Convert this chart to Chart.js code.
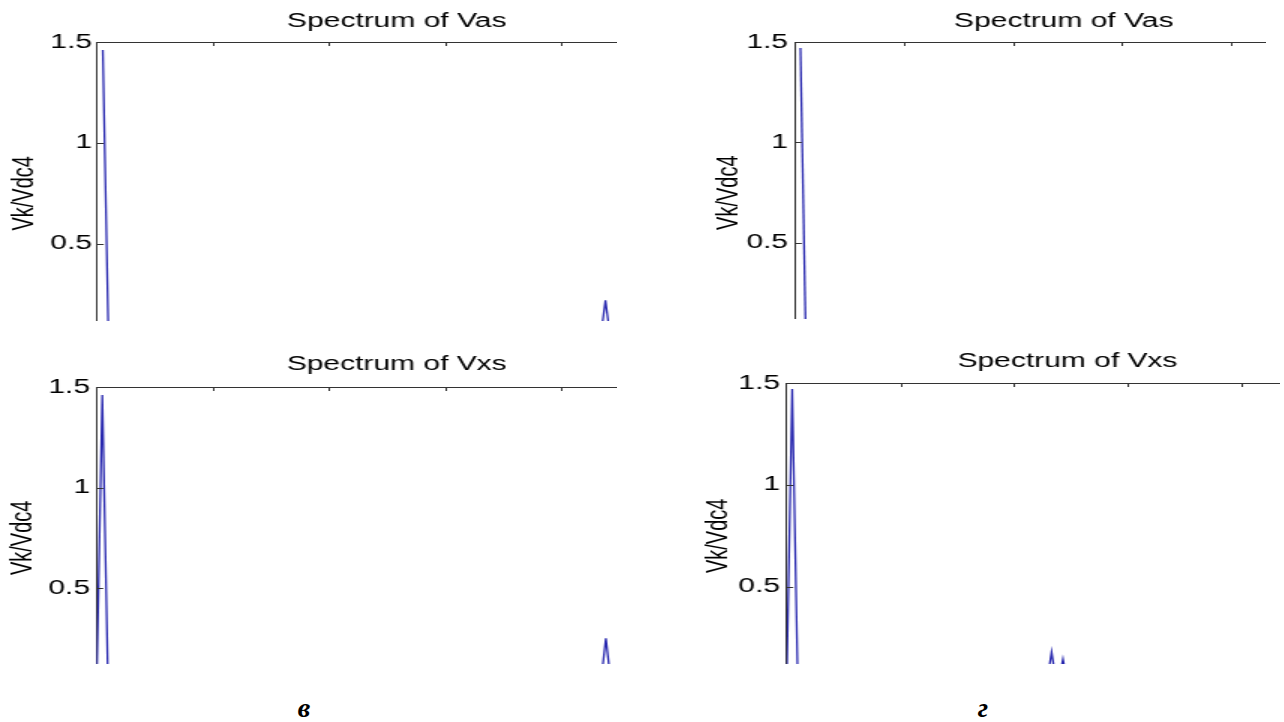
<!DOCTYPE html>
<html><head><meta charset="utf-8">
<script src="https://cdn.jsdelivr.net/npm/chart.js@4.4.0/dist/chart.umd.min.js"></script>
<style>
html,body{margin:0;padding:0;background:#fff;width:1284px;height:722px;overflow:hidden;}
.panel{position:absolute;overflow:hidden;}
.panel canvas{position:absolute;left:0;top:0;transform:scaleX(1.5);transform-origin:0 0;}
.lbl{position:absolute;width:40px;text-align:center;font-family:'Liberation Serif','Times New Roman',serif;font-weight:bold;font-style:italic;font-size:28px;line-height:28px;color:#000;}
</style></head><body>
<div class="panel" style="left:0px;top:0px;width:617px;height:321px"><canvas id="cTL" width="529" height="360"></canvas></div>
<div class="panel" style="left:700px;top:0px;width:566px;height:319px"><canvas id="cTR" width="485" height="360"></canvas></div>
<div class="panel" style="left:0px;top:335px;width:617px;height:329px"><canvas id="cBL" width="529" height="370"></canvas></div>
<div class="panel" style="left:700px;top:335px;width:580px;height:329px"><canvas id="cBR" width="490" height="370"></canvas></div>
<div class="lbl" style="left:284px;top:694px">в</div>
<div class="lbl" style="left:963px;top:694px">г</div>
<script>
// ---- data (frequency in Hz, amplitude Vk/Vdc4) ----
const freqTL = [50, 100, 4330, 4380, 4430];
const ampTL  = [1.46, 0, 0, 0.22, 0];
const freqTR = [50, 100];
const ampTR  = [1.47, 0];
const freqBL = [0, 50, 100, 4335, 4385, 4435];
const ampBL  = [0, 1.46, 0, 0, 0.25, 0];
const freqBR = [0, 50, 100, 2280, 2330, 2380, 2430, 2480];
const ampBR  = [0, 1.47, 0, 0, 0.18, 0, 0.144, 0];
const titleTop = 'Spectrum of Vas';
const titleBottom = 'Spectrum of Vxs';
const yLabel = 'Vk/Vdc4';
const yTickValues = [0, 0.5, 1, 1.5];
const yTickLabels = ['0', '0.5', '1', '1.5'];
const xTickValues = [0, 1000, 2000, 3000, 4000, 5000, 6000];

const FONT = "'Liberation Sans', Arial, sans-serif";
const LINE = 'rgb(40,40,175)';
const AX = '#333';

const inwardTicks = {
  id: 'inwardTicks',
  afterDraw(chart) {
    const {ctx, chartArea: a, scales: {x, y}} = chart;
    ctx.save();
    ctx.strokeStyle = AX; ctx.lineWidth = 1;
    ctx.beginPath();
    x.ticks.forEach(t => { const px = Math.round(x.getPixelForValue(t.value)) + 0.5;
      if (px > a.left + 2 && px < a.right - 2) { ctx.moveTo(px, a.top); ctx.lineTo(px, a.top + 4); } });
    y.ticks.forEach(t => { const py = Math.round(y.getPixelForValue(t.value)) + 0.5;
      ctx.moveTo(a.left, py); ctx.lineTo(a.left + 4.5, py); });
    ctx.stroke();
    ctx.restore();
  }
};

function makeChart(id, freq, amp, title, L) {
  new Chart(document.getElementById(id), {
    type: 'line',
    data: { datasets: [{ data: freq.map((f, i) => ({x: f, y: amp[i]})),
      borderColor: LINE, borderWidth: 1.3, pointRadius: 0, tension: 0, fill: false }] },
    options: {
      responsive: false, animation: false, devicePixelRatio: 1,
      layout: { padding: { left: 0, top: 0, right: 0, bottom: L.padBottom } },
      plugins: {
        legend: { display: false }, tooltip: { enabled: false },
        title: { display: true, text: title, color: '#000',
          font: { family: FONT, size: 20, weight: 'normal' },
          padding: { top: L.titlePad, bottom: 0 } }
      },
      scales: {
        x: { type: 'linear', position: 'top', min: 0, max: L.xMax,
          afterBuildTicks: s => { s.ticks = xTickValues.filter(v => v <= L.xMax).map(v => ({value: v})); },
          afterFit: s => { s.height = L.xAxisH; },
          ticks: { display: false },
          grid: { display: false, drawTicks: false },
          border: { display: true, color: AX, width: 1 } },
        y: { type: 'linear', position: 'left', min: 0, max: 1.5,
          afterBuildTicks: s => { s.ticks = yTickValues.map(v => ({value: v})); },
          afterFit: s => { s.width = L.chartLeft; },
          ticks: { color: '#000', padding: L.tickPad, font: { family: FONT, size: 20 },
            callback: v => yTickLabels[yTickValues.indexOf(v)] },
          grid: { display: false, drawTicks: false },
          border: { display: true, color: AX, width: 1 },
          title: { display: true, text: yLabel, color: '#000',
            font: { family: FONT, size: 20 }, padding: { top: L.yTitlePad, bottom: 0 } } }
      }
    },
    plugins: [inwardTicks]
  });
}

makeChart('cTL', freqTL, ampTL, titleTop,
  { chartLeft: 64.67, xMax: 6000, titlePad: 9, xAxisH: 9, padBottom: 10.5, yTitlePad: 4.7, tickPad: 3.3 });
makeChart('cTR', freqTR, ampTR, titleTop,
  { chartLeft: 63.33, xMax: 5800, titlePad: 9, xAxisH: 9, padBottom: 12, yTitlePad: 7.3, tickPad: 4.6 });
makeChart('cBL', freqBL, ampBL, titleBottom,
  { chartLeft: 64.33, xMax: 6000, titlePad: 17, xAxisH: 11, padBottom: 13.5, yTitlePad: 3.6, tickPad: 4.3 });
makeChart('cBR', freqBR, ampBR, titleBottom,
  { chartLeft: 57.67, xMax: 5700, titlePad: 14, xAxisH: 10, padBottom: 13, yTitlePad: 0, tickPad: 4.3 });
</script>
</body></html>
